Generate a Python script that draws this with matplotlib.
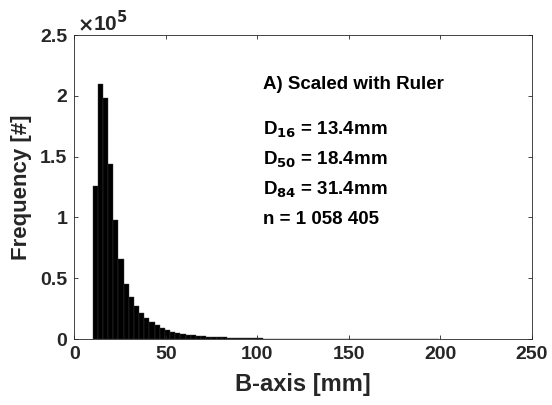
import matplotlib
matplotlib.use("Agg")
import matplotlib.pyplot as plt
from matplotlib.ticker import FuncFormatter

plt.rcParams['font.family'] = ['Liberation Sans', 'DejaVu Sans']
plt.rcParams['font.weight'] = 'bold'

# histogram: first bin edge, bin width, counts per bin
bin_start = 10.0
bin_width = 2.82
counts = [126000, 209700, 198000, 143700, 97900, 65500, 45500, 34500, 27100, 21400,
          17500, 14200, 11500, 9300, 7400, 6000, 4900, 4100, 3500, 3000,
          2600, 2250, 1950, 1700, 1450, 1250, 1080, 930, 800, 690,
          590, 510, 440, 380, 330, 285, 245, 210, 180, 155,
          135, 115, 100, 85, 73, 63, 54, 46, 40, 34,
          29, 25, 21, 18, 15, 13, 11, 9, 8, 7,
          6, 5, 4, 3, 3, 2, 2]

stats_title = "A) Scaled with Ruler"
stats_lines = [r"D$_{\mathbf{16}}$ = 13.4mm", r"D$_{\mathbf{50}}$ = 18.4mm",
               r"D$_{\mathbf{84}}$ = 31.4mm", "n = 1 058 405"]

xticks = [0, 50, 100, 150, 200, 250]
yticks = [0, 50000, 100000, 150000, 200000, 250000]

axcol = '#262626'

fig = plt.figure(figsize=(5.52, 4.05), dpi=100)
ax = fig.add_axes([74.3 / 552, 66 / 405, (532 - 74.3) / 552, (339 - 35) / 405])

lefts = [bin_start + i * bin_width for i in range(len(counts))]
ax.bar(lefts, counts, width=bin_width, align='edge', color='black',
       edgecolor='#3a3a3a', linewidth=0.3)

ax.set_xlim(0, 250)
ax.set_ylim(0, 250000)
ax.set_xticks(xticks)
ax.set_yticks(yticks)
ax.yaxis.set_major_formatter(FuncFormatter(lambda v, p: f"{v / 1e5:g}"))
ax.tick_params(direction='in', length=3, width=0.6, colors=axcol,
               labelsize=14, top=True, right=True, pad=5)
for lab in ax.get_xticklabels() + ax.get_yticklabels():
    lab.set_fontweight('bold')
for sp in ax.spines.values():
    sp.set_color(axcol)
    sp.set_linewidth(0.6)

ax.set_xlabel("B-axis [mm]", fontsize=17, fontweight='bold', color=axcol, labelpad=7)
ax.set_ylabel("Frequency [#]", fontsize=16, fontweight='bold', color=axcol, labelpad=6)

ax.text(0.005, 1.0, r"$\times$", transform=ax.transAxes, fontsize=14,
        fontweight='normal', color=axcol, ha='left', va='bottom')
ax.text(0.04, 1.0, r"10$^{\mathbf{5}}$", transform=ax.transAxes, fontsize=15,
        fontweight='bold', color=axcol, ha='left', va='bottom')

ax.text(103, 209000, stats_title, fontsize=13.5, fontweight='bold', color='black', va='center')
for i, line in enumerate(stats_lines):
    ax.text(103, 172000 - i * 24700, line, fontsize=13.5, fontweight='bold',
            color='black', va='center')

fig.savefig("out.png", dpi=100)
